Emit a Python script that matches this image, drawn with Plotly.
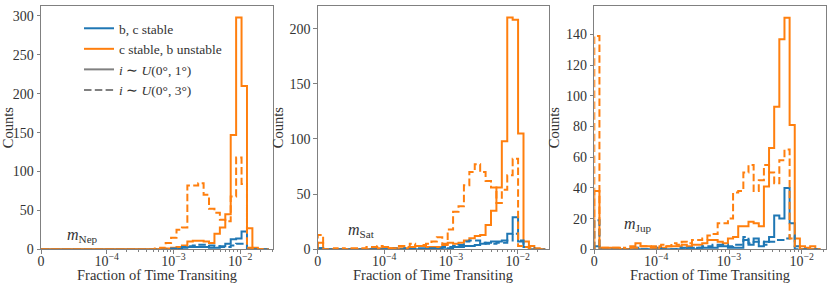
import numpy as np
import plotly.graph_objects as go

# ---------------- data (counts per bin) ----------------
# Panel 1: m_Nep (42 bins)
nep_bc_stable_i1 = [0,0,0,0,0,0,0,0,0,0, 0,0,0,0,0,0,0,0,0,0, 0,0,0,0,0,1,2,3,3,3, 3,2,2,4,7,13,14,23,0,0, 0,0]
nep_b_unstable_i1 = [0,0,0,0,0,0,0,0,0,0, 0,0,0,0,0,0,0,0,0,0, 0,0,1,1,2,3,5,10,11,11, 10,8,20,28,45,147,298,210,27,2, 0,0]
nep_bc_stable_i3 = [0,0,0,0,0,0,0,0,0,0, 0,0,0,0,0,0,0,0,0,0, 0,0,0,0,1,1,3,4,5,6, 6,5,4,3,3,5,7,7,1,0, 0,0]
nep_b_unstable_i3 = [0,0,0,0,0,0,0,0,0,0, 0,0,0,0,0,0,0,0,0,0, 0,1,2,8,15,25,28,82,82,85, 70,52,47,38,36,68,118,84,2,1, 0,0]

# Panel 2: m_Sat (42 bins)
sat_bc_stable_i1 = [1,0,0,0,0,0,0,0,0,0, 0,0,0,0,0,0,0,1,0,0, 1,0,1,0,1,2,2,3,3,4, 5,6,7,7,8,14,29,7,2,0, 0,0]
sat_b_unstable_i1 = [6,0,0,0,0,0,0,0,0,0, 1,1,2,1,1,1,1,2,3,3, 2,2,2,4,6,5,6,8,10,12, 13,22,35,56,98,210,208,105,7,3, 1,0]
sat_bc_stable_i3 = [1,0,0,0,0,0,0,0,0,0, 0,0,0,0,1,0,1,0,1,1, 1,1,1,2,2,3,4,7,8,8, 6,5,5,6,6,8,14,8,2,1, 0,0]
sat_b_unstable_i3 = [13,0,0,1,1,0,1,1,1,2, 2,3,2,1,1,3,2,5,3,4, 5,7,11,5,18,34,39,58,70,77, 70,62,56,42,54,67,82,3,2,1, 0,0]

# Panel 3: m_Jup (44 bins)
jup_bc_stable_i1 = [2,0,0,0,0,0,0,0,0,0, 0,0,0,0,0,0,0,1,0,0, 1,1,1,1,2,2,1,1,1,6, 3,7,2,5,8,22,20,40,17,2, 0,0,0,0]
jup_b_unstable_i1 = [38,1,1,1,1,0,0,2,4,2, 2,2,1,1,2,2,2,3,2,3, 3,4,6,6,5,4,7,8,15,15, 18,17,15,41,66,93,137,151,81,7, 2,1,2,0]
jup_bc_stable_i3 = [19,0,0,0,0,0,0,0,1,0, 0,0,1,0,0,0,1,0,1,1, 1,2,2,3,3,3,2,3,3,8, 4,5,5,3,5,6,6,7,9,0, 0,0,0,0]
jup_b_unstable_i3 = [139,1,1,1,1,1,0,1,1,2, 2,1,2,3,2,4,3,5,4,6, 6,7,9,10,17,17,20,37,38,50, 55,38,45,55,50,43,58,65,7,2, 0,0,0,0]

# log10 of the lower edge of the first ("0") bin and log10 bin width, per panel
bin_lo = [-4.985, -4.9985, -4.853]
bin_w = [0.0812, 0.0812, 0.0707]
x_hi = [-1.514, -1.535, -1.67]
y_max = [312.8, 220.5, 158.6]
y_ticks = [[0, 50, 100, 150, 200, 250, 300], [0, 50, 100, 150, 200], [0, 20, 40, 60, 80, 100, 120, 140]]
mass_labels = ["Nep", "Sat", "Jup"]
x_title = "Fraction of Time Transiting"
y_title = "Counts"

series = [
    [nep_bc_stable_i1, nep_b_unstable_i1, nep_bc_stable_i3, nep_b_unstable_i3],
    [sat_bc_stable_i1, sat_b_unstable_i1, sat_bc_stable_i3, sat_b_unstable_i3],
    [jup_bc_stable_i1, jup_b_unstable_i1, jup_bc_stable_i3, jup_b_unstable_i3],
]

BLUE = "#1f77b4"
ORANGE = "#ff7f0e"
GRAY = "#808080"
FONT = "Liberation Serif, serif"
TXT = "#333333"
DASH = "7.5px,3.3px"

W, H = 831, 285
x_px = [(41, 272.7), (317.7, 548.7), (594.3, 825.7)]
y_dom = [(285 - 249.3) / H, (285 - 6) / H]

fig = go.Figure()

styles = [(BLUE, "solid"), (ORANGE, "solid"), (BLUE, DASH), (ORANGE, DASH)]

for p in range(3):
    xa = "x" if p == 0 else f"x{p+1}"
    ya = "y" if p == 0 else f"y{p+1}"
    for s in range(4):
        counts = series[p][s]
        n = len(counts)
        edges = 10 ** (bin_lo[p] + bin_w[p] * np.arange(n + 1))
        xs = np.concatenate([[edges[0]], edges[:-1], [edges[-1]]])
        ys = [0] + list(counts) + [0]
        color, dash = styles[s]
        fig.add_trace(go.Scatter(
            x=xs, y=ys, mode="lines", line=dict(color=color, width=2, dash=dash, shape="hv"),
            xaxis=xa, yaxis=ya, showlegend=False, hoverinfo="skip"))

# legend entries
legend_items = [
    ("b, c stable", BLUE, "solid"),
    ("c stable, b unstable", ORANGE, "solid"),
    ("<i>i</i> ∼ <i>U</i>(0°, 1°)", GRAY, "solid"),
    ("<i>i</i> ∼ <i>U</i>(0°, 3°)", GRAY, DASH),
]
for name, color, dash in legend_items:
    fig.add_trace(go.Scatter(x=[None], y=[None], mode="lines", name=name,
                             line=dict(color=color, width=2, dash=dash),
                             xaxis="x", yaxis="y", showlegend=True))

layout = dict(
    width=W, height=H, margin=dict(l=0, r=0, t=0, b=0, autoexpand=False),
    paper_bgcolor="white", plot_bgcolor="white",
    font=dict(family=FONT, size=13, color=TXT),
    showlegend=True,
    legend=dict(x=79 / W, y=1 - 13 / H, xanchor="left", yanchor="top",
                bgcolor="rgba(0,0,0,0)", font=dict(family=FONT, size=13.5, color=TXT),
                itemwidth=30, tracegroupgap=0),
)

sup = {-4: "10<sup>−4</sup>", -3: "10<sup>−3</sup>", -2: "10<sup>−2</sup>"}
annotations = []
for p in range(3):
    xk = "xaxis" if p == 0 else f"xaxis{p+1}"
    yk = "yaxis" if p == 0 else f"yaxis{p+1}"
    xref = "x" if p == 0 else f"x{p+1}"
    yref = "y" if p == 0 else f"y{p+1}"
    minor_vals = [m * 10.0 ** e for e in (-4, -3, -2) for m in range(2, 10)]
    layout[xk] = dict(
        type="log", domain=[x_px[p][0] / W, x_px[p][1] / W], anchor=yref,
        range=[bin_lo[p], x_hi[p]], automargin=False,
        tickmode="array",
        tickvals=[10 ** bin_lo[p], 1e-4, 1e-3, 1e-2],
        ticktext=["0", sup[-4], sup[-3], sup[-2]],
        ticks="outside", ticklen=3.5, tickwidth=1, tickcolor=GRAY,
        ticklabelstandoff=-5,
        minor=dict(tickmode="array", tickvals=minor_vals, ticks="outside", ticklen=2,
                   tickwidth=0.8, tickcolor=GRAY),
        showline=True, mirror=True, linecolor=GRAY, linewidth=1,
        showgrid=False, zeroline=False,
        tickfont=dict(family=FONT, size=14, color=TXT),
    )
    layout[yk] = dict(
        domain=list(y_dom), anchor=xref, range=[0, y_max[p]], automargin=False,
        tickmode="array", tickvals=y_ticks[p],
        ticks="outside", ticklen=3.5, tickwidth=1, tickcolor=GRAY,
        showline=True, mirror=True, linecolor=GRAY, linewidth=1,
        showgrid=False, zeroline=False,
        tickfont=dict(family=FONT, size=14, color=TXT),
        title=dict(text=y_title, font=dict(family=FONT, size=14.5, color=TXT), standoff=2),
    )
    # x-axis title placed just below the tick labels
    annotations.append(dict(
        x=0.5, xref=f"{xref} domain", y=1 - 275 / H, yref="paper",
        xanchor="center", yanchor="middle", showarrow=False,
        text=x_title, font=dict(family=FONT, size=14.5, color=TXT)))

label_px = [(65, 235), (346, 230), (622, 224)]
for p in range(3):
    annotations.append(dict(
        x=label_px[p][0] / W, y=1 - label_px[p][1] / H, xref="paper", yref="paper",
        xanchor="left", yanchor="middle", showarrow=False,
        text=f"<i>m</i><sub>{mass_labels[p]}</sub>",
        font=dict(family=FONT, size=16, color=TXT)))

layout["annotations"] = annotations
fig.update_layout(**layout)
fig.write_html("out.html", config={"displayModeBar": False},
               post_script="document.body.style.margin='0';document.body.style.padding='0';")
